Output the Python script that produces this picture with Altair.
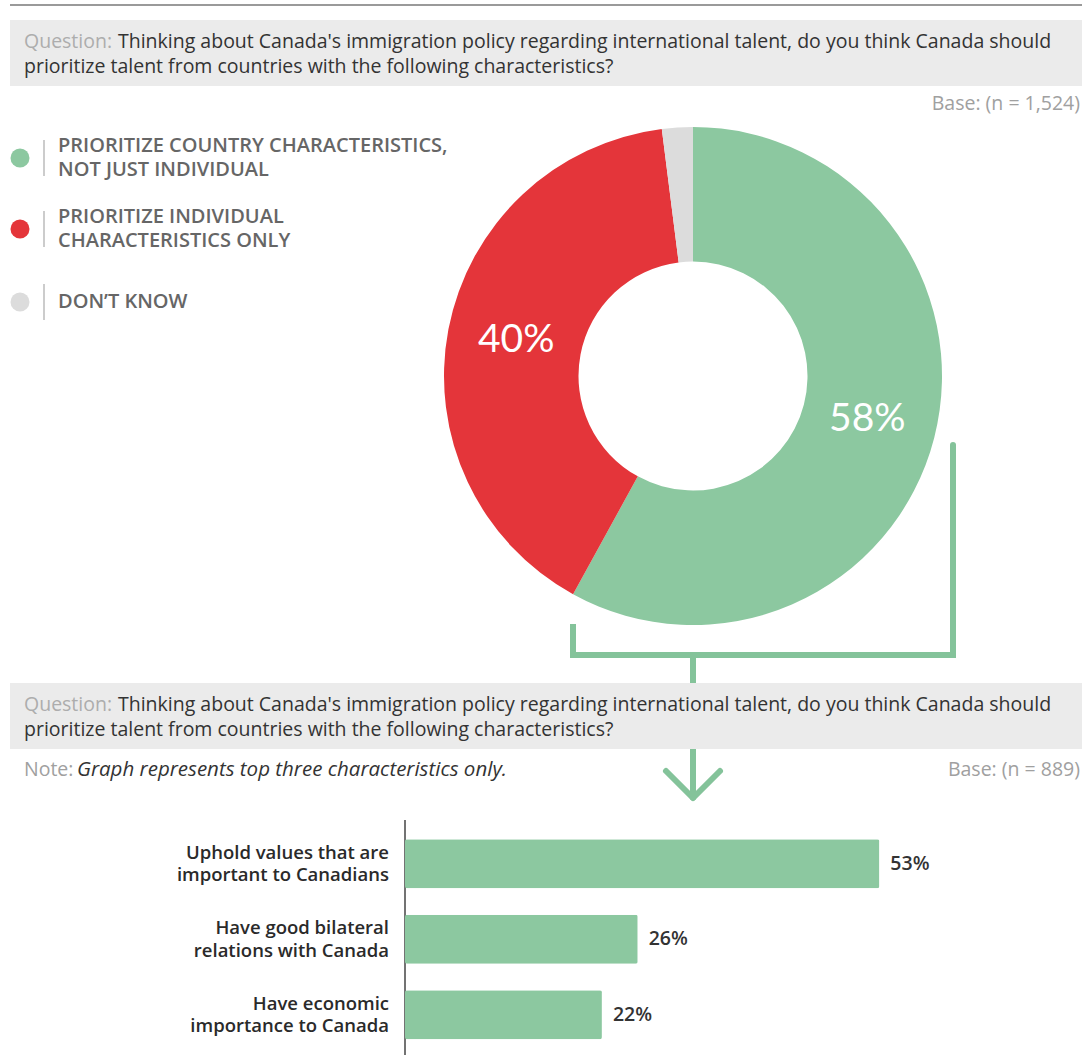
import altair as alt
import pandas as pd

# ---------------- data ----------------
donut_cats = ["Prioritize country characteristics, not just individual",
              "Prioritize individual characteristics only",
              "Don't know"]
donut_vals = [58, 40, 2]
donut_labels = ["58%", "40%", ""]
donut_colors = ["#8CC8A0", "#E4353A", "#DCDCDC"]
legend_lines = [["PRIORITIZE COUNTRY CHARACTERISTICS,", "NOT JUST INDIVIDUAL"],
                ["PRIORITIZE INDIVIDUAL", "CHARACTERISTICS ONLY"],
                ["DON\u2019T KNOW"]]

bar_cats = ["Uphold values that are important to Canadians",
            "Have good bilateral relations with Canada",
            "Have economic importance to Canada"]
bar_lines = [["Uphold values that are", "important to Canadians"],
             ["Have good bilateral", "relations with Canada"],
             ["Have economic", "importance to Canada"]]
bar_vals = [53, 26, 22]

q_label = "Question:"
q_line1 = "Thinking about Canada's immigration policy regarding international talent, do you think Canada should"
q_line2 = "prioritize talent from countries with the following characteristics?"
base1 = "Base: (n = 1,524)"
base2 = "Base: (n = 889)"
note_label = "Note:"
note_text = "Graph represents top three characteristics only."

FONT = "Open Sans"
GREEN_LINE = "#84C39A"
TS = 19.5

dummy = pd.DataFrame({"a": [0]})


def vtext(txt, x, y, size=TS, color="#333333", align="left", weight="normal",
          style="normal", baseline="middle", font=FONT):
    kw = dict(text=txt, fontSize=size, color=color, align=align, fontWeight=weight,
              fontStyle=style, baseline=baseline, font=font)
    return alt.Chart(dummy).mark_text(**kw).encode(x=alt.value(x), y=alt.value(y))


def vrule(x, y, x2, y2, color, width, cap="butt"):
    return alt.Chart(dummy).mark_rule(color=color, strokeWidth=width, strokeCap=cap).encode(
        x=alt.value(x), y=alt.value(y), x2=alt.value(x2), y2=alt.value(y2))


def vrect(x, y, x2, y2, color):
    return alt.Chart(dummy).mark_rect(color=color).encode(
        x=alt.value(x), y=alt.value(y), x2=alt.value(x2), y2=alt.value(y2))


layers = []

# top line and first question box
layers.append(vrule(10, 5, 1082, 5, "#9a9a9a", 2))
layers.append(vrect(10, 20, 1082, 86, "#EBEBEB"))
layers.append(vtext(q_label, 24, 42, color="#ADADAD"))
layers.append(vtext(q_line1, 118, 42))
layers.append(vtext(q_line2, 24, 67))
layers.append(vtext(base1, 1080, 104, color="#A0A0A0", align="right"))

# legend
leg_y = [158, 229, 302]
for i, lines in enumerate(legend_lines):
    layers.append(alt.Chart(dummy).mark_circle(size=360, opacity=1, color=donut_colors[i]).encode(
        x=alt.value(20), y=alt.value(leg_y[i])))
    layers.append(vrule(44, leg_y[i] - 18, 44, leg_y[i] + 18, "#BBBBBB", 1.5))
    y0 = leg_y[i] - (len(lines) - 1) * 11.75
    for j, ln in enumerate(lines):
        layers.append(vtext(ln, 58, y0 + j * 23.5, size=20, color="#666666", weight=600))

# donut
donut_df = pd.DataFrame({"category": donut_cats, "value": donut_vals,
                         "label": donut_labels, "order": [0, 1, 2]})
cx, cy = 693, 376
arc = alt.Chart(donut_df).mark_arc(radius=249, radius2=114.5).encode(
    theta=alt.Theta("value:Q", stack=True),
    order=alt.Order("order:Q"),
    color=alt.Color("category:N", scale=alt.Scale(domain=donut_cats, range=donut_colors), legend=None),
    x=alt.value(cx), y=alt.value(cy))
arc_text = alt.Chart(donut_df).mark_text(radius=180, fontSize=39, color="white", font="Lato",
                                         fontWeight="normal", dy=-2).encode(
    theta=alt.Theta("value:Q", stack=True),
    order=alt.Order("order:Q"),
    detail="category:N",
    text="label:N",
    x=alt.value(cx), y=alt.value(cy))
layers += [arc, arc_text]

# bracket connector and arrow
layers.append(vrule(573, 627, 573, 655, GREEN_LINE, 6, "square"))
layers.append(vrule(573, 655, 953, 655, GREEN_LINE, 6, "square"))
layers.append(vrule(953, 445, 953, 655, GREEN_LINE, 6, "round"))
layers.append(vrule(693, 655, 693, 684, GREEN_LINE, 6))
layers.append(vrule(693, 748, 693, 797, GREEN_LINE, 6))
layers.append(vrule(666, 771, 693, 798, GREEN_LINE, 6, "round"))
layers.append(vrule(720, 771, 693, 798, GREEN_LINE, 6, "round"))

# second question box
layers.append(vrect(10, 683, 1082, 749, "#EBEBEB"))
layers.append(vtext(q_label, 24, 705, color="#ADADAD"))
layers.append(vtext(q_line1, 118, 705))
layers.append(vtext(q_line2, 24, 730))
layers.append(vtext(note_label, 24, 770, color="#A0A0A0"))
layers.append(vtext(note_text, 77, 770, size=20.5, style="italic"))
layers.append(vtext(base2, 1080, 770, color="#A0A0A0", align="right"))

# bar chart
bar_df = pd.DataFrame({"cat": bar_cats, "value": bar_vals,
                       "lines": bar_lines, "lab": [f"{v}%" for v in bar_vals]})
xs = alt.Scale(domain=[0, 100], range=[405, 1300])
ys = alt.Scale(domain=bar_cats, range=[826, 1052.5], paddingInner=0.35, paddingOuter=0.175)
bars = alt.Chart(bar_df).mark_bar(color="#8CC8A0", cornerRadius=2).encode(
    x=alt.X("value:Q", scale=xs, axis=None),
    y=alt.Y("cat:N", scale=ys, axis=None, sort=bar_cats))
bar_vals_txt = alt.Chart(bar_df).mark_text(align="left", dx=11, fontSize=19.5, fontWeight=600,
                                           color="#333333", font=FONT).encode(
    x=alt.X("value:Q", scale=xs, axis=None),
    y=alt.Y("cat:N", scale=ys, axis=None, sort=bar_cats),
    text="lab:N")
bar_cat_txt = alt.Chart(bar_df).mark_text(align="right", fontSize=18.5, fontWeight=600,
                                          color="#2a2a2a", font=FONT, lineHeight=22.5,
                                          baseline="middle", dy=-11.25).encode(
    x=alt.value(389),
    y=alt.Y("cat:N", scale=ys, axis=None, sort=bar_cats),
    text="lines")
layers.append(vrule(405, 820, 405, 1055, "#444444", 1.5))
layers += [bars, bar_vals_txt, bar_cat_txt]

chart = alt.layer(*layers).properties(
    width=1087, height=1055,
    autosize=alt.AutoSizeParams(type="none"),
    padding=0,
    background="white",
).configure_view(stroke=None)

chart.save("out.html", embed_options={"renderer": "svg", "actions": False})
